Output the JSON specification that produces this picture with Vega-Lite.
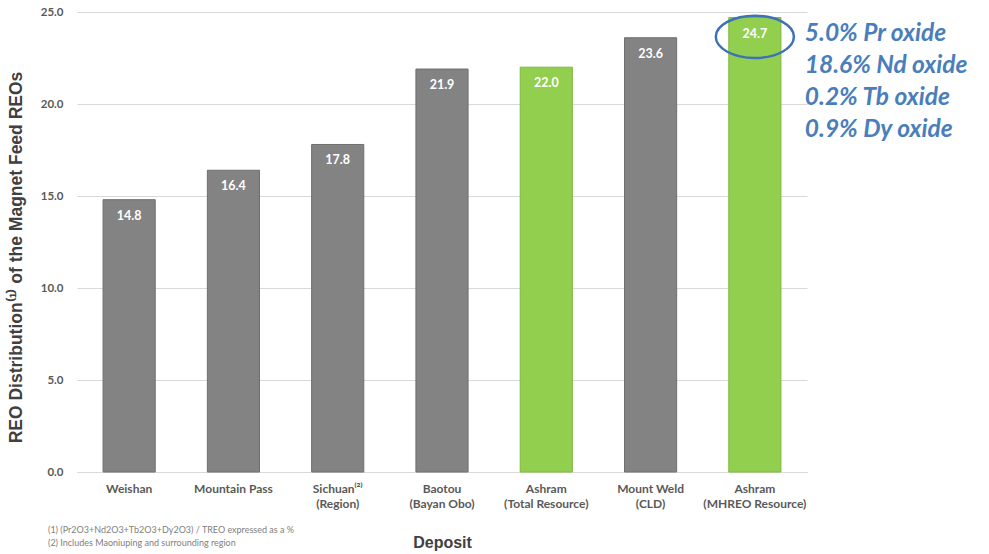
{
  "$schema": "https://vega.github.io/schema/vega-lite/v6.json",
  "width": 730,
  "height": 460,
  "autosize": {"type": "none"},
  "padding": {"left": 77, "top": 12, "right": 182, "bottom": 82},
  "background": "white",
  "config": {"view": {"stroke": null}},
  "title": {
    "text": ["(1) (Pr2O3+Nd2O3+Tb2O3+Dy2O3) / TREO expressed as a %", "(2) Includes Maoniuping and surrounding region"],
    "orient": "bottom",
    "anchor": "start",
    "frame": "group",
    "dx": -29,
    "offset": -24,
    "font": "Lato",
    "fontSize": 9,
    "fontWeight": "normal",
    "color": "#808080",
    "lineHeight": 12.5
  },
  "data": {
    "values": [
      {"deposit": "Weishan", "value": 14.8, "type": "Other"},
      {"deposit": "Mountain Pass", "value": 16.4, "type": "Other"},
      {"deposit": "Sichuan⁽²⁾\n(Region)", "value": 17.8, "type": "Other"},
      {"deposit": "Baotou\n(Bayan Obo)", "value": 21.9, "type": "Other"},
      {"deposit": "Ashram\n(Total Resource)", "value": 22.0, "type": "Ashram"},
      {"deposit": "Mount Weld\n(CLD)", "value": 23.6, "type": "Other"},
      {"deposit": "Ashram\n(MHREO Resource)", "value": 24.7, "type": "Ashram"}
    ]
  },
  "encoding": {
    "x": {
      "field": "deposit",
      "type": "nominal",
      "sort": null,
      "scale": {"paddingInner": 0.5, "paddingOuter": 0.25},
      "axis": {
        "title": "Deposit",
        "titleFont": "Liberation Sans",
        "titleFontSize": 16,
        "titleFontWeight": "bold",
        "titleColor": "#404040",
        "titlePadding": 25,
        "labelExpr": "split(datum.label, '\\n')",
        "labelAngle": 0,
        "labelFont": "Lato",
        "labelFontSize": 12,
        "labelFontWeight": "bold",
        "labelColor": "#595959",
        "labelPadding": 11,
        "labelLineHeight": 15,
        "ticks": false,
        "domainColor": "#d9d9d9",
        "domainWidth": 1
      }
    },
    "y": {
      "field": "value",
      "type": "quantitative",
      "scale": {"domain": [0, 25], "nice": false},
      "axis": {
        "title": "REO Distribution⁽¹⁾ of the Magnet Feed REOs",
        "titleFont": "Liberation Sans",
        "titleFontSize": 17.5,
        "titleFontWeight": "bold",
        "titleColor": "#404040",
        "titlePadding": 15,
        "titleY": 245,
        "values": [0, 5, 10, 15, 20, 25],
        "format": ".1f",
        "labelFont": "Lato",
        "labelFontSize": 11.5,
        "labelFontWeight": "bold",
        "labelColor": "#595959",
        "labelPadding": 14,
        "ticks": false,
        "domain": false,
        "gridColor": "#d9d9d9",
        "gridWidth": 1
      }
    }
  },
  "layer": [
    {
      "mark": {"type": "bar", "strokeWidth": 1},
      "encoding": {
        "color": {
          "field": "type",
          "type": "nominal",
          "scale": {"domain": ["Other", "Ashram"], "range": ["#838383", "#92cf4f"]},
          "legend": null
        },
        "stroke": {
          "field": "type",
          "type": "nominal",
          "scale": {"domain": ["Other", "Ashram"], "range": ["#6e6e6e", "#7fb83e"]},
          "legend": null
        }
      }
    },
    {
      "mark": {"type": "text", "baseline": "top", "dy": 10, "font": "Lato", "fontSize": 12.5, "fontWeight": "bold", "color": "white"},
      "encoding": {"text": {"field": "value", "type": "quantitative", "format": ".1f"}}
    },
    {
      "data": {"values": [{"deposit": "Ashram\n(MHREO Resource)", "center": 23.65}]},
      "mark": {"type": "point", "shape": "M -1 0 C -1 -0.298 -0.552 -0.54 0 -0.54 C 0.552 -0.54 1 -0.298 1 0 C 1 0.298 0.552 0.54 0 0.54 C -0.552 0.54 -1 0.298 -1 0 Z", "size": 6100, "filled": false, "stroke": "#3f72b5", "strokeWidth": 2.5, "opacity": 1},
      "encoding": {
        "x": {"field": "deposit", "type": "nominal", "sort": null},
        "y": {"field": "center", "type": "quantitative"}
      }
    },
    {
      "data": {"values": [{"deposit": "Ashram\n(MHREO Resource)", "top": 24.7, "note": ["5.0% Pr oxide", "18.6% Nd oxide", "0.2% Tb oxide", "0.9% Dy oxide"]}]},
      "mark": {"type": "text", "align": "left", "baseline": "top", "dx": 50, "dy": 4, "font": "Lato", "fontSize": 24.5, "fontWeight": "bold", "fontStyle": "italic", "color": "#4a7ebb", "lineHeight": 32},
      "encoding": {
        "x": {"field": "deposit", "type": "nominal", "sort": null},
        "y": {"field": "top", "type": "quantitative"},
        "text": {"field": "note"}
      }
    }
  ]
}
